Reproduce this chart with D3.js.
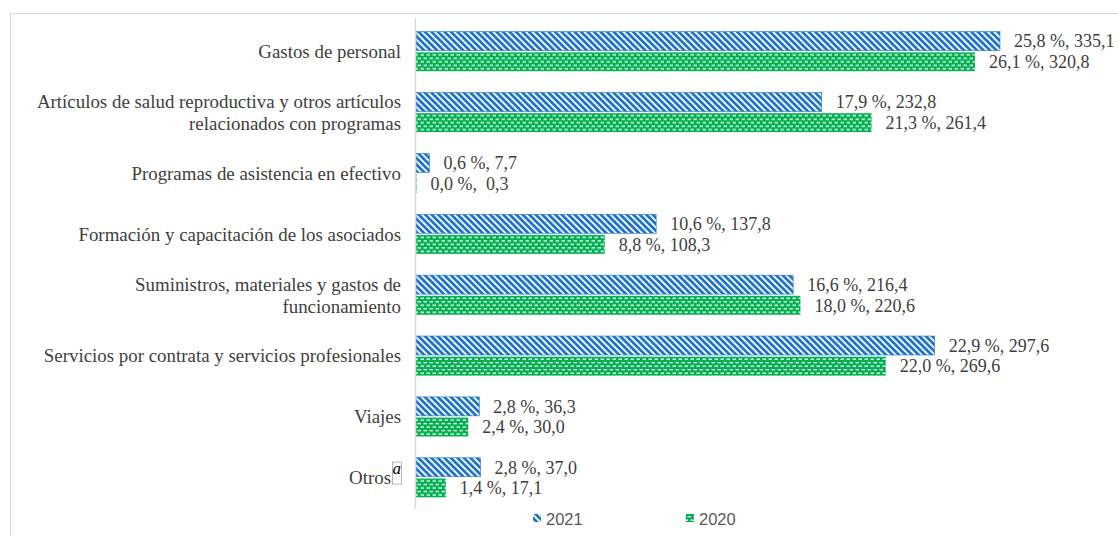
<!DOCTYPE html>
<html><head><meta charset="utf-8">
<script src="https://cdn.jsdelivr.net/npm/d3@7"></script>
<style>body{margin:0;background:#fff}svg{display:block}</style>
</head><body>
<svg id="c" width="1118" height="536"></svg>
<script>
const categories = [
  ["Gastos de personal"],
  ["Artículos de salud reproductiva y otros artículos", "relacionados con programas"],
  ["Programas de asistencia en efectivo"],
  ["Formación y capacitación de los asociados"],
  ["Suministros, materiales y gastos de", "funcionamiento"],
  ["Servicios por contrata y servicios profesionales"],
  ["Viajes"],
  ["Otros"]
];
const series = ["2021", "2020"];
const values2021 = [335.1, 232.8, 7.7, 137.8, 216.4, 297.6, 36.3, 37.0];
const values2020 = [320.8, 261.4, 0.3, 108.3, 220.6, 269.6, 30.0, 17.1];
const labels2021 = ["25,8 %, 335,1", "17,9 %, 232,8", "0,6 %, 7,7", "10,6 %, 137,8", "16,6 %, 216,4", "22,9 %, 297,6", "2,8 %, 36,3", "2,8 %, 37,0"];
const labels2020 = ["26,1 %, 320,8", "21,3 %, 261,4", "0,0 %,  0,3", "8,8 %, 108,3", "18,0 %, 220,6", "22,0 %, 269,6", "2,4 %, 30,0", "1,4 %, 17,1"];

const svg = d3.select("#c");
const blue = "#1F74CC", green = "#00B050";
const defs = svg.append("defs");
const pb = defs.append("pattern").attr("id","pBlue").attr("patternUnits","userSpaceOnUse")
  .attr("width",4.6).attr("height",4.6).attr("patternTransform","rotate(-45)");
pb.append("rect").attr("width",4.6).attr("height",4.6).attr("fill","#fff");
pb.append("rect").attr("width",2.8).attr("height",4.6).attr("fill",blue);
const pg = defs.append("pattern").attr("id","pGreen").attr("patternUnits","userSpaceOnUse")
  .attr("width",6).attr("height",7);
pg.append("rect").attr("width",6).attr("height",7).attr("fill",green);
pg.append("rect").attr("x",0.5).attr("y",1.5).attr("width",3.5).attr("height",1.3).attr("fill","#fff");
pg.append("rect").attr("x",3.5).attr("y",5).attr("width",3.5).attr("height",1.3).attr("fill","#fff");
pg.append("rect").attr("x",-2.5).attr("y",5).attr("width",3.5).attr("height",1.3).attr("fill","#fff");
const fills = {"2021":"url(#pBlue)","2020":"url(#pGreen)"};
const strokes = {"2021":blue,"2020":"none"};

// frame
svg.append("rect").attr("x",10.5).attr("y",13.5).attr("width",1200).attr("height",600)
  .attr("fill","none").attr("stroke","#d9d9d9");

const x0 = 416;
const x = d3.scaleLinear().domain([0, 335.1]).range([x0, 1000]);
const idx = d3.range(categories.length);
const y0 = d3.scaleBand().domain(idx).range([21, 508]).paddingInner(0.35).paddingOuter(0.175);
const y1 = d3.scaleBand().domain(series).range([0, y0.bandwidth()]).paddingInner(0.08);

const data = idx.map(i => ({i, vals:[{s:"2021",v:values2021[i],l:labels2021[i]},{s:"2020",v:values2020[i],l:labels2020[i]}]}));

const g = svg.append("g");
const grp = g.selectAll("g.row").data(data).join("g").attr("transform", d => `translate(0,${y0(d.i)})`);
grp.selectAll("rect").data(d => d.vals).join("rect")
  .attr("x", x(0)).attr("y", d => y1(d.s)).attr("width", d => x(d.v) - x(0))
  .attr("height", y1.bandwidth()).attr("fill", d => fills[d.s])
  .attr("stroke", d => strokes[d.s]).attr("stroke-width", 0.6);
grp.selectAll("text.val").data(d => d.vals).join("text").attr("class","val")
  .attr("x", d => x(d.v) + 14).attr("y", d => y1(d.s) + y1.bandwidth()/2)
  .attr("dy","0.35em").attr("font-family","'Liberation Serif', 'Times New Roman', serif")
  .attr("font-size",18).attr("fill","#404040").style("white-space","pre").text(d => d.l);

// axis line
svg.append("line").attr("x1",x0-0.5).attr("x2",x0-0.5).attr("y1",18).attr("y2",509)
  .attr("stroke","#d9d9d9").attr("stroke-width",1.5);

// category labels
const lab = svg.append("g").attr("font-family","'Liberation Serif', 'Times New Roman', serif")
  .attr("font-size",18.9).attr("fill","#404040").attr("text-anchor","end");
categories.forEach((lines, i) => {
  const cy = y0(i) + y0.bandwidth()/2;
  const isOtros = lines[0] === "Otros";
  const ax = isOtros ? 391 : 401;
  const t = lab.append("text").attr("y", cy - (lines.length-1)*11);
  lines.forEach((ln, k) => t.append("tspan").attr("x", ax).attr("dy", k === 0 ? "0.35em" : 22).text(ln));
  if (isOtros) {
    svg.append("rect").attr("x",392.5).attr("y",cy-15.5).attr("width",9).attr("height",22)
      .attr("fill","none").attr("stroke","#a6a6a6").attr("stroke-width",0.8);
    svg.append("text").attr("x",396.8).attr("y",cy-4).attr("text-anchor","middle")
      .attr("font-family","'Liberation Serif', serif").attr("font-style","italic")
      .attr("font-size",17).attr("fill","#000").text("a");
  }
});

// legend
const leg = svg.append("g");
const lx = {"2021":533, "2020":686};
series.forEach(s => {
  leg.append("rect").attr("x",lx[s]).attr("y",514).attr("width",8).attr("height",8)
    .attr("fill",fills[s]);
  leg.append("text").attr("x",lx[s]+13).attr("y",519).attr("dy","0.35em")
    .attr("font-family","'Liberation Sans', Arial, sans-serif").attr("font-size",16.5)
    .attr("fill","#595959").text(s);
});
</script>
</body></html>
